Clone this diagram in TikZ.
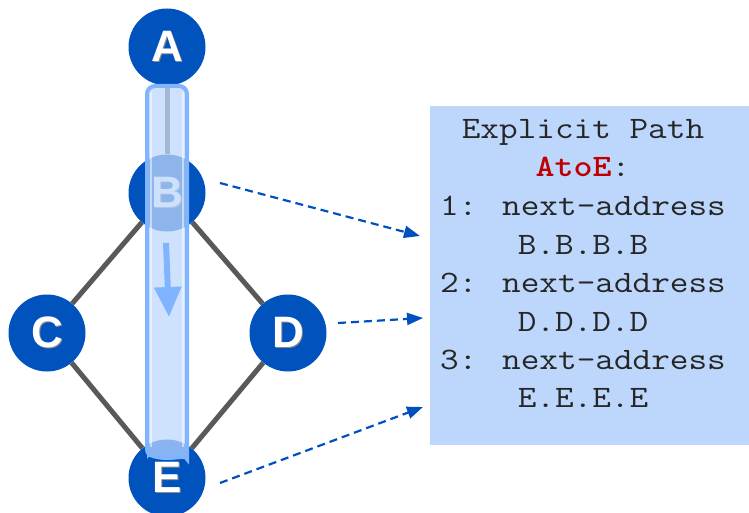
\documentclass[tikz,border=0pt]{standalone}
\usepackage{fontspec}
\setmainfont{Liberation Sans}
\usetikzlibrary{arrows.meta,backgrounds}

\definecolor{nodeblue}{HTML}{0052BC}
\definecolor{edgegray}{HTML}{595959}
\definecolor{tubeedge}{HTML}{80B4FF}
\definecolor{tubefill}{HTML}{BED7FC}
\definecolor{boxfill}{HTML}{BDD7FC}
\definecolor{linkblue}{HTML}{0050C0}
\definecolor{pathred}{HTML}{C00000}

% white letter with a soft grey drop shadow
\newcommand{\shadowed}[1]{\rlap{\kern1.3pt\raisebox{-1.3pt}{\color{black!45}#1}}#1}
% typewriter line, widened to a courier-like pitch
\newcommand{\hopline}[1]{\scalebox{1.16}[1]{#1}}

\begin{document}
\begin{tikzpicture}[x=1pt,y=-1pt,
  router/.style={circle,fill=nodeblue,minimum size=77pt,inner sep=0pt,
    text=white,font=\fontsize{44}{44}\selectfont\bfseries},
  link/.style={draw=edgegray,line width=5pt},
  ref/.style={draw=linkblue,line width=2.2pt,dash pattern=on 8pt off 5pt,
    -{Triangle[width=12pt,length=16pt]}},
  txt/.style={anchor=base,inner sep=0pt,text=black!85,
    font=\ttfamily\fontsize{31.2}{38}\selectfont}]

\useasboundingbox (0,0) rectangle (749,513);

% routers
\node[router] (A) at (167,47)  {\shadowed{A}};
\node[router] (B) at (167,193) {\shadowed{B}};
\node[router] (C) at (47,333)  {\shadowed{C}};
\node[router] (D) at (288,333) {\shadowed{D}};
\node[router] (E) at (167,478) {\shadowed{E}};

% topology links
\begin{scope}[on background layer]
  \draw[link] (A) -- (B);
  \draw[link] (B) -- (C);
  \draw[link] (B) -- (D);
  \draw[link] (C) -- (E);
  \draw[link] (D) -- (E);
\end{scope}

% explicit path box
\node[fill=boxfill,minimum width=319pt,minimum height=339pt,inner sep=0pt,
  anchor=north west] (box) at (430,106) {};
\node[txt] (l1) at (583,139) {\hopline{Explicit Path}};
\node[txt] (l2) at (583,177) {\hopline{\textcolor{pathred}{\bfseries AtoE}:}};
\node[txt] (l3) at (583,215) {\hopline{1: next-address}};
\node[txt] (l4) at (583,254) {\hopline{B.B.B.B}};
\node[txt] (l5) at (583,292) {\hopline{2: next-address}};
\node[txt] (l6) at (583,331) {\hopline{D.D.D.D}};
\node[txt] (l7) at (583,369) {\hopline{3: next-address}};
\node[txt] (l8) at (583,407) {\hopline{E.E.E.E}};

% references from the routers to their hops
\coordinate (hop1) at (420,236);
\coordinate (hop2) at (423,318);
\coordinate (hop3) at (423,407);
\draw[ref] ([shift={(53,-10)}]B.center) -- (hop1);
\draw[ref] ([shift={(50,-10)}]D.center) -- (hop2);
\draw[ref] ([shift={(53,5)}]E.center) -- (hop3);

% LSP tunnel from A to E
\fill[tubefill,opacity=0.75,rounded corners=8pt]
  (147,451) -- (147,86) -- (187,86) -- (187,451)
  arc[start angle=0,end angle=180,x radius=20,y radius=7] -- cycle;
\fill[tubeedge,opacity=0.35] (167,449) ellipse[x radius=20,y radius=6];
\draw[tubeedge,line width=1pt,opacity=0.6] (167,452) ellipse[x radius=17,y radius=3];
\draw[tubeedge,line width=4pt,rounded corners=8pt]
  (147,451) -- (147,86) -- (187,86) -- (187,451)
  arc[start angle=0,end angle=180,x radius=20,y radius=7];
\draw[white,opacity=0.5,line width=1.5pt] (151,92) -- (151,447);
\draw[white,opacity=0.5,line width=1.5pt] (183,92) -- (183,447);
\coordinate (flowtop) at (166,243);
\coordinate (flowtip) at (169,317);
\draw[tubeedge,line width=6pt,-{Triangle[width=26pt,length=30pt]}] (flowtop) -- (flowtip);

\end{tikzpicture}
\end{document}
